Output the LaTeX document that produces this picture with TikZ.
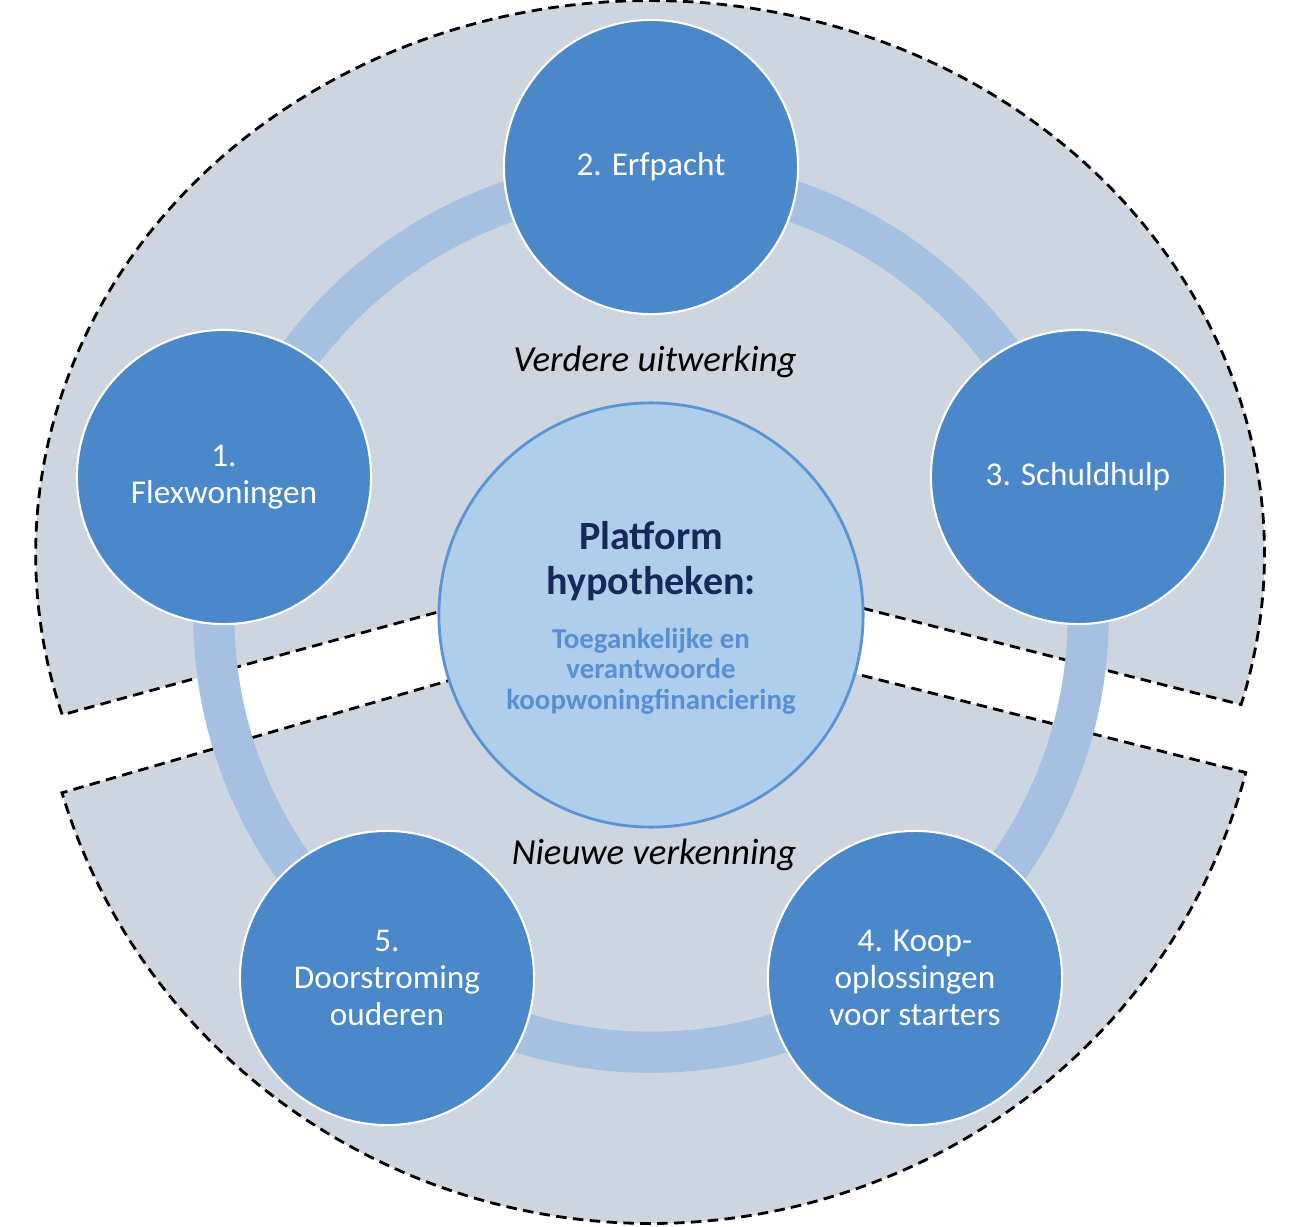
\documentclass[tikz,border=0pt]{standalone}
\usepackage{fontspec}
\setmainfont{Carlito}
\definecolor{regiongray}{HTML}{CDD5E0}
\definecolor{ringblue}{HTML}{A6C0E1}
\definecolor{topicblue}{HTML}{4A88CA}
\definecolor{hubfill}{HTML}{AFCEEB}
\definecolor{hubline}{HTML}{5A94D4}
\definecolor{titlenavy}{HTML}{17285A}
\definecolor{subblue}{HTML}{558FD4}
\begin{document}
\begin{tikzpicture}[x=0.01cm,y=0.01cm,
  region/.style={fill=regiongray, draw=black, line width=0.8pt, dash pattern=on 3pt off 1.8pt},
  ringband/.style={draw=ringblue, line width=11.7pt},
  topic/.style={circle, fill=topicblue, draw=white, line width=0.6pt, minimum size=2.94cm,
    inner sep=0pt, text=white, align=center, font=\fontsize{9.45}{10.5}\selectfont},
  hub/.style={circle, fill=hubfill, draw=hubline, line width=0.8pt, minimum size=4.24cm, inner sep=0pt},
  phase/.style={font=\fontsize{10.45}{12}\selectfont\itshape, text=black, inner sep=0pt},
  title/.style={font=\fontsize{11.4}{12.8}\selectfont\bfseries, text=titlenavy, align=center, inner sep=0pt},
  subtitle/.style={font=\fontsize{8.2}{8.7}\selectfont\bfseries, text=subblue, align=center, inner sep=0pt}
]
\useasboundingbox (0,0) rectangle (1299,1226);
\fill[white] (0,0) rectangle (1299,1226);
% two parts of the split disc
\coordinate (upapex) at (650,672);
\coordinate (lowapex) at (651,604);
\draw[region] (upapex) -- ([shift={(-15.8:6.14cm and 5.53cm)}]upapex)
  arc[start angle=-15.8, end angle=196.9, x radius=6.14cm, y radius=5.53cm] -- cycle;
\draw[region] (lowapex) -- ([shift={(196.5:6.14cm and 6.01cm)}]lowapex)
  arc[start angle=196.5, end angle=345.5, x radius=6.14cm, y radius=6.01cm] -- cycle;
% ring
\coordinate (ringc) at (651,611);
\draw[ringband] (ringc) circle[radius=4.37cm];
% topic circles
\node[topic] (t2) at (651,1059) {2. Erfpacht};
\node[topic] (t1) at (224,749) {1.\\Flexwoningen};
\node[topic] (t3) at (1078,749) {3. Schuldhulp};
\node[topic] (t4) at (915,248) {4. Koop-\\oplossingen\\voor starters};
\node[topic] (t5) at (387,248) {5.\\Doorstroming\\ouderen};
% hub
\node[hub] (hubc) at (651,611) {};
\node[title] (ttl) at (651,665) {Platform\\hypotheken:};
\node[subtitle] (sub) at (651,555) {Toegankelijke en\\verantwoorde\\koopwoningfinanciering};
% phase labels
\node[phase] (ph1) at (655,864) {Verdere uitwerking};
\node[phase] (ph2) at (654,371) {Nieuwe verkenning};
\end{tikzpicture}
\end{document}
